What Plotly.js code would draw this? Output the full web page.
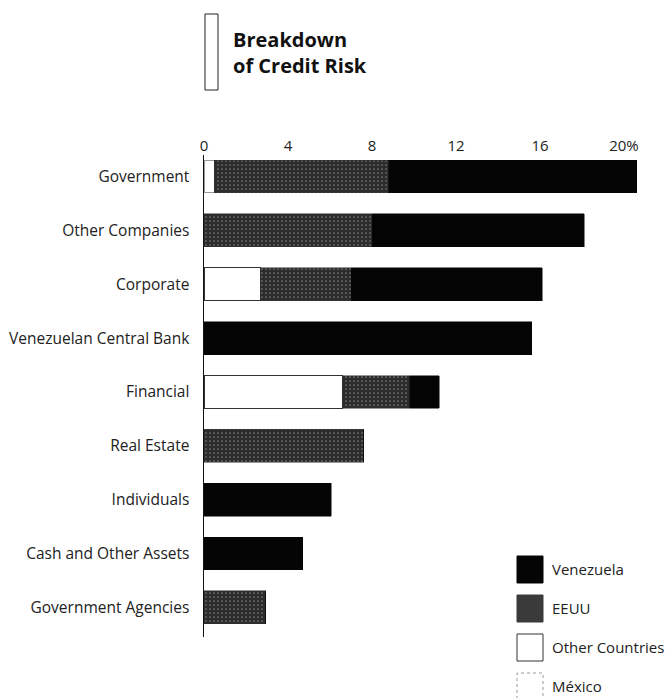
<!DOCTYPE html>
<html>
<head>
<meta charset="utf-8">
<script src="https://cdn.plot.ly/plotly-3.0.1.min.js"></script>
<style>html,body{margin:0;padding:0;background:#fff;}#chart{width:668px;height:698px;}</style>
</head>
<body>
<div id="chart"></div>
<script>
// ---- data ----
var categories = ["Government", "Other Companies", "Corporate", "Venezuelan Central Bank", "Financial", "Real Estate", "Individuals", "Cash and Other Assets", "Government Agencies"];
var mexico = [0.5, 0, 0, 0, 0, 0, 0, 0, 0];
var otherCountries = [0, 0, 2.7, 0, 6.6, 0, 0, 0, 0];
var eeuu = [8.3, 8.0, 4.3, 0, 3.2, 7.6, 0, 0, 2.95];
var venezuela = [11.8, 10.1, 9.1, 15.6, 1.4, 0, 6.05, 4.7, 0];
var tickValues = [0, 4, 8, 12, 16, 20];
var tickLabels = ["0", "4", "8", "12", "16", "20%"];
var seriesNames = ["Venezuela", "EEUU", "Other Countries", "México"];

// ---- layout geometry (pixels) ----
var W = 668, H = 698;
var L = 204, R = 643, T = 155, B = 637;
function px(x) { return (x - L) / (R - L); }
function py(y) { return (B - y) / (B - T); }

var FONT = "Open Sans, Noto Sans, sans-serif";
var DARK = "#050505";
var GRAY = "#2c2c2c";

var traces = [
  {name: seriesNames[3], x: mexico, marker: {color: "#ffffff", line: {color: "#9a9a9a", width: 1}}},
  {name: seriesNames[2], x: otherCountries, marker: {color: "#ffffff", line: {color: "#333333", width: 1}}},
  {name: seriesNames[1], x: eeuu, marker: {color: GRAY, line: {color: GRAY, width: 0.5},
      pattern: {shape: ".", fgcolor: "#7a7a7a", bgcolor: GRAY, size: 4, solidity: 0.15}}},
  {name: seriesNames[0], x: venezuela, marker: {color: DARK, line: {color: DARK, width: 0.5}}}
].map(function (t) {
  t.type = "bar"; t.orientation = "h"; t.y = categories; t.showlegend = false; t.hoverinfo = "skip";
  return t;
});

var shapes = [], annotations = [];
// title bracket box
shapes.push({type: "rect", xref: "paper", yref: "paper", x0: px(205), x1: px(218), y0: py(90), y1: py(14),
  line: {color: "#222", width: 1}, fillcolor: "rgba(0,0,0,0)"});

// manual legend
var legFill = [DARK, "#3a3a3a", "#ffffff", "#ffffff"];
var legLine = [DARK, "#3a3a3a", "#333333", "#9a9a9a"];
var legDash = ["solid", "solid", "solid", "dot"];
var legTop = [556, 595, 634, 673];
for (var i = 0; i < seriesNames.length; i++) {
  shapes.push({type: "rect", xref: "paper", yref: "paper", x0: px(517), x1: px(543), y0: py(legTop[i] + 27), y1: py(legTop[i]),
    fillcolor: legFill[i], line: {color: legLine[i], width: 1, dash: legDash[i]}});
  annotations.push({xref: "paper", yref: "paper", x: px(550), y: py(legTop[i] + 13), xanchor: "left", yanchor: "middle",
    text: seriesNames[i], showarrow: false, font: {family: FONT, size: 15, color: "#222"}});
}

var layout = {
  width: W, height: H,
  paper_bgcolor: "#fff", plot_bgcolor: "#fff",
  margin: {l: L, r: W - R, t: T, b: H - B, pad: 0},
  barmode: "stack", bargap: 0.39,
  showlegend: false,
  font: {family: FONT, size: 15, color: "#222"},
  title: {text: "Breakdown<br>of Credit Risk", xref: "container", yref: "container",
    x: 233 / W, xanchor: "left", y: 1 - 47 / H, yanchor: "middle",
    font: {family: FONT, size: 20, color: "#111", weight: "bold"}},
  xaxis: {side: "top", range: [0, (R - L) / 21], tickvals: tickValues, ticktext: tickLabels,
    showgrid: false, zeroline: false, showline: false, ticks: "", fixedrange: true,
    tickfont: {family: FONT, size: 15, color: "#222"}},
  yaxis: {type: "category", autorange: false, range: [8.55, -0.4], showgrid: false, zeroline: false,
    showline: true, linecolor: "#111", linewidth: 1.5, ticks: "", ticklabelstandoff: 10,
    tickfont: {family: FONT, size: 15.5, color: "#222"}},
  shapes: shapes, annotations: annotations
};

Plotly.newPlot("chart", traces, layout, {staticPlot: true, displayModeBar: false});
</script>
</body>
</html>
